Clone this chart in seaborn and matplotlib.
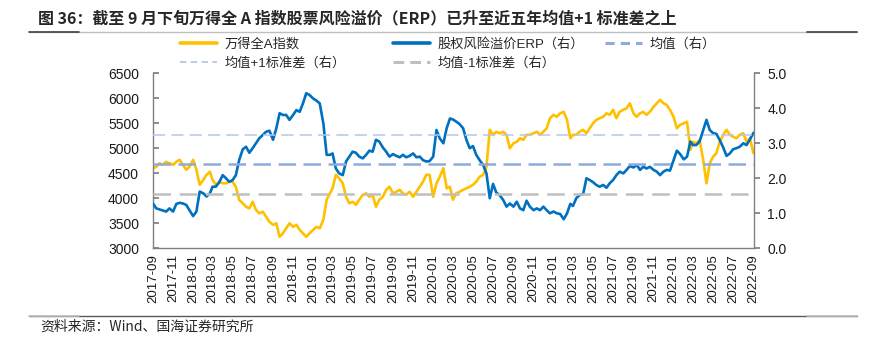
import pandas as pd
import matplotlib
matplotlib.use("Agg")
import matplotlib.pyplot as plt
import matplotlib.dates as mdates
from matplotlib.lines import Line2D
import seaborn as sns

# Observation dates: 1st, 11th and 21st of every month, Sep 2017 - Sep 2022
dates = [pd.Timestamp(2017 + (8 + i // 3) // 12, (8 + i // 3) % 12 + 1, (1, 11, 21)[i % 3])
         for i in range(181)]

# Wind All-A index level (left axis)
wind_a = [
    4600, 4630, 4700, 4670, 4730, 4700, 4670, 4730, 4770, 4670, 4570, 4630, 4770, 4570, 4270,
    4370, 4470, 4530, 4370, 4270, 4330, 4300, 4300, 4330, 4330, 4230, 3970, 3900, 3830, 3800,
    3930, 3770, 3700, 3730, 3630, 3530, 3470, 3500, 3230, 3300, 3400, 3500, 3430, 3470, 3370,
    3300, 3230, 3300, 3370, 3430, 3400, 3570, 3970, 4100, 4200, 4470, 4400, 4300, 4030, 3900,
    3930, 3870, 3970, 4070, 4100, 4030, 4070, 3830, 3970, 4030, 4170, 4230, 4100, 4130, 4170,
    4100, 4070, 4130, 4030, 4130, 4230, 4330, 4470, 4470, 4030, 4300, 4430, 4600, 4200, 4230,
    3970, 4100, 4130, 4170, 4200, 4230, 4270, 4330, 4430, 4470, 4630, 5370, 5270, 5330, 5300,
    5330, 5270, 5000, 5100, 5130, 5200, 5170, 5270, 5270, 5300, 5330, 5270, 5330, 5400, 5600,
    5670, 5630, 5700, 5730, 5570, 5200, 5270, 5270, 5330, 5370, 5300, 5400, 5500, 5570, 5600,
    5630, 5700, 5670, 5770, 5600, 5730, 5770, 5800, 5900, 5700, 5630, 5700, 5730, 5670, 5730,
    5830, 5900, 5970, 5900, 5870, 5770, 5630, 5400, 5470, 5500, 5530, 4970, 5130, 5100, 5170,
    4770, 4300, 4700, 4830, 4900, 5130, 5270, 5370, 5270, 5230, 5200, 5270, 5300, 5130, 5200,
    4900,
]

# Equity risk premium, % (right axis)
erp = [
    1.28, 1.14, 1.11, 1.08, 1.05, 1.14, 1.05, 1.27, 1.30, 1.28, 1.24, 1.09, 0.92, 1.05, 1.62,
    1.57, 1.48, 1.57, 1.76, 1.76, 1.88, 2.09, 2.00, 1.90, 1.95, 2.09, 2.52, 2.83, 2.90, 2.73,
    2.86, 3.00, 3.14, 3.24, 3.33, 3.36, 3.10, 3.43, 3.86, 3.81, 3.81, 3.67, 3.81, 3.95, 3.90,
    4.14, 4.43, 4.38, 4.28, 4.22, 4.14, 3.57, 2.67, 2.67, 2.71, 2.28, 2.14, 2.09, 2.48, 2.62,
    2.76, 2.73, 2.62, 2.57, 2.67, 2.79, 2.76, 3.10, 3.05, 2.88, 2.76, 2.62, 2.69, 2.64, 2.60,
    2.67, 2.60, 2.64, 2.71, 2.60, 2.62, 2.52, 2.48, 2.49, 2.62, 3.38, 3.14, 3.00, 3.43, 3.71,
    3.68, 3.62, 3.55, 3.43, 3.10, 2.86, 2.92, 2.67, 2.52, 2.38, 2.14, 1.43, 1.84, 1.59, 1.52,
    1.38, 1.19, 1.28, 1.19, 1.33, 1.14, 1.09, 1.36, 1.19, 1.09, 1.14, 1.09, 1.19, 1.09, 1.00,
    1.05, 1.00, 0.98, 0.83, 1.00, 1.27, 1.21, 1.43, 1.52, 1.55, 2.00, 1.95, 1.89, 1.81, 1.76,
    1.81, 1.73, 1.86, 1.95, 2.09, 2.19, 2.14, 2.24, 2.35, 2.31, 2.38, 2.24, 2.33, 2.28, 2.33,
    2.24, 2.19, 2.09, 2.19, 2.24, 2.22, 2.52, 2.79, 2.69, 2.54, 2.62, 3.05, 2.95, 2.95, 3.05,
    3.38, 3.67, 3.38, 3.29, 3.27, 3.10, 2.88, 2.64, 2.71, 2.83, 2.86, 2.90, 3.00, 2.95, 3.11,
    3.30,
]

# Five-year ERP mean and standard deviation
erp_mean = 2.40
erp_std = 0.84

labels = ["万得全A指数", "股权风险溢价ERP（右）", "均值（右）", "均值+1标准差（右）", "均值-1标准差（右）"]
title = "图 36：截至 9 月下旬万得全 A 指数股票风险溢价（ERP）已升至近五年均值+1 标准差之上"
source = "资料来源：Wind、国海证券研究所"

df = pd.DataFrame({"date": dates, "wind_a": wind_a, "erp": erp})

sns.set_theme(style="white")
plt.rcParams["font.family"] = ["Liberation Sans", "Noto Sans CJK SC", "DejaVu Sans"]

YELLOW = "#FFC000"
BLUE = "#0070C0"
MEAN_C = "#8FAADC"
UP_C = "#B4C7E7"
DN_C = "#BFBFBF"
SPINE = "#808080"

W, H = 872, 340
fig = plt.figure(figsize=(W / 100, H / 100), dpi=100)
ax = fig.add_axes([153 / W, 1 - 248.3 / H, (753.5 - 153) / W, (248.3 - 73.3) / H])

sns.lineplot(data=df, x="date", y="wind_a", ax=ax, color=YELLOW, lw=1.9)
ax2 = ax.twinx()
sns.lineplot(data=df, x="date", y="erp", ax=ax2, color=BLUE, lw=1.9)
mean_ls = (0, (7, 3))
up_ls = (0, (8, 4))
dn_ls = (0, (7, 3.5))
ax2.axhline(erp_mean, color=MEAN_C, lw=1.8, ls=mean_ls)
ax2.axhline(erp_mean + erp_std, color=UP_C, lw=1.1, ls=up_ls)
ax2.axhline(erp_mean - erp_std, color=DN_C, lw=1.8, ls=dn_ls)

ax.set_xlim(dates[0], dates[-1])
ax.set_ylim(3000, 6500)
ax2.set_ylim(0, 5)
ax.set_yticks(range(3000, 7000, 500))
ax2.set_yticks([0, 1, 2, 3, 4, 5])
ax2.yaxis.set_major_formatter(matplotlib.ticker.FormatStrFormatter("%.1f"))
ax.set_xticks(pd.date_range("2017-09-01", "2022-09-01", freq="2MS"))
ax.xaxis.set_major_formatter(mdates.DateFormatter("%Y-%m"))
for a in (ax, ax2):
    a.set_xlabel("")
    a.set_ylabel("")
    a.spines["top"].set_visible(False)
    for s in ("left", "right", "bottom"):
        a.spines[s].set_color(SPINE)
        a.spines[s].set_linewidth(1.0)
ax.spines["right"].set_visible(False)
ax2.spines["left"].set_visible(False)
ax2.spines["bottom"].set_visible(False)

ax.tick_params(axis="y", direction="in", length=4, color=SPINE, labelsize=10, pad=10, labelcolor="#1a1a1a")
ax.tick_params(axis="x", direction="in", length=4, color=SPINE, labelsize=9.5, rotation=90, pad=4, labelcolor="#1a1a1a")
ax2.tick_params(axis="y", direction="out", length=4, color=SPINE, labelsize=10, pad=6, labelcolor="#1a1a1a")

# Legend, laid out as two rows of entries
handles = [
    Line2D([], [], color=YELLOW, lw=2.6),
    Line2D([], [], color=BLUE, lw=2.6),
    Line2D([], [], color=MEAN_C, lw=2.2, ls=(0, (3, 2))),
    Line2D([], [], color=UP_C, lw=1.3, ls=(0, (3.5, 2.5))),
    Line2D([], [], color=DN_C, lw=2.2, ls=(0, (3.5, 2))),
]
cols = [((0, 3), 180), ((1, 4), 393), ((2,), 605)]
for idx, xpx in cols:
    fig.legend([handles[i] for i in idx], [labels[i] for i in idx],
               loc="upper left", bbox_to_anchor=(xpx / W, 1 - 38 / H),
               frameon=False, fontsize=9.5, handlelength=2.8, handletextpad=0.55,
               labelspacing=0.45, borderpad=0, borderaxespad=0,
               prop={"family": ["Liberation Sans", "Noto Sans CJK SC"], "size": 9.5})

# Title and source with their rules
fig.text(38 / W, 1 - 18 / H, title, fontsize=11.5, fontweight="bold", va="center", ha="left",
         family=["Noto Sans CJK SC", "DejaVu Sans"])
fig.text(40 / W, 1 - 327 / H, source, fontsize=10, va="center", ha="left",
         family=["Noto Sans CJK SC", "DejaVu Sans"])
for ypx, outer, inner in ((32, "#404040", "#BFBFBF"), (316, "#BFBFBF", "#595959")):
    y = 1 - ypx / H
    fig.add_artist(Line2D([29 / W, 857 / W], [y, y], color=inner, lw=1.0))
    fig.add_artist(Line2D([29 / W, 79 / W], [y, y], color=outer, lw=1.2))
    fig.add_artist(Line2D([807 / W, 857 / W], [y, y], color=outer, lw=1.2))

fig.savefig("out.png", dpi=100)
